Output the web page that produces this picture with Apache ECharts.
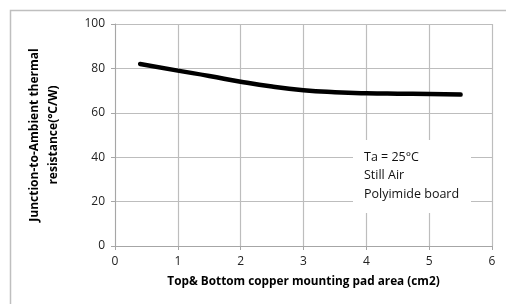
<!DOCTYPE html>
<html>
<head>
<meta charset="utf-8">
<script src="https://cdn.jsdelivr.net/npm/echarts@6/dist/echarts.min.js"></script>
<style>
  html, body { margin: 0; padding: 0; background: #fff; }
  #chart { width: 506px; height: 304px; }
</style>
</head>
<body>
<div id="chart"></div>
<script>
// 数据：铜箔面积 (cm2) 与 结-环境热阻 (°C/W)
const padArea = [0.4, 1, 1.5, 2, 2.5, 3, 3.5, 4, 4.5, 5, 5.5];
const thermalRes = [82, 79, 76.6, 74, 71.8, 70.2, 69.3, 68.8, 68.6, 68.5, 68.2];
const xTicks = [0, 1, 2, 3, 4, 5, 6];
const yTicks = [0, 20, 40, 60, 80, 100];
const noteLines = ['Ta = 25°C', 'Still Air', 'Polyimide board'];

const chart = echarts.init(document.getElementById('chart'));
const FONT = '"Open Sans", "Liberation Sans", sans-serif';

const option = {
    animation: false,
    textStyle: { fontFamily: FONT },
    grid: {
        left: 115,
        right: 14,
        top: 24,
        bottom: 58
    },
    xAxis: {
        type: 'value',
        min: xTicks[0],
        max: xTicks[xTicks.length - 1],
        interval: 1,
        name: 'Top& Bottom copper mounting pad area (cm2)',
        nameLocation: 'middle',
        nameGap: 30,
        nameTextStyle: { fontSize: 11.8, fontWeight: 'bold', color: '#000', fontFamily: FONT },
        axisLine: { show: true, lineStyle: { color: '#a6a6a6', width: 1 } },
        axisTick: { show: true, length: 4, lineStyle: { color: '#a6a6a6' } },
        axisLabel: { fontSize: 12, color: '#222', margin: 10 },
        splitLine: { show: true, lineStyle: { color: '#bdbdbd', width: 1.2 } }
    },
    yAxis: {
        type: 'value',
        min: yTicks[0],
        max: yTicks[yTicks.length - 1],
        interval: 20,
        name: 'Junction-to-Ambient thermal\nresistance(°C/W)',
        nameLocation: 'middle',
        nameGap: 52,
        nameTextStyle: { fontSize: 12, fontWeight: 'bold', color: '#000', lineHeight: 19, fontFamily: FONT },
        axisLine: { show: true, lineStyle: { color: '#a6a6a6', width: 1 } },
        axisTick: { show: true, length: 4, lineStyle: { color: '#a6a6a6' } },
        axisLabel: { fontSize: 12, color: '#222', margin: 10 },
        splitLine: { show: true, lineStyle: { color: '#bdbdbd', width: 1.2 } }
    },
    graphic: [
        {
            type: 'rect',
            left: 8, top: 8,
            shape: { width: 520, height: 320 },
            style: { fill: 'none', stroke: '#bfbfbf', lineWidth: 1.5 },
            silent: true
        },
        {
            type: 'rect',
            left: 353, top: 140,
            z: 50,
            shape: { width: 118, height: 73 },
            style: { fill: '#fff' }
        },
        {
            type: 'text',
            left: 364, top: 148,
            z: 51,
            style: {
                text: noteLines.join('\n'),
                fontSize: 12.5,
                lineHeight: 18.5,
                fill: '#111',
                fontFamily: FONT
            }
        }
    ],
    series: [
        {
            type: 'line',
            smooth: true,
            symbol: 'none',
            data: padArea.map((x, i) => [x, thermalRes[i]]),
            lineStyle: { color: '#000', width: 4.5, cap: 'round' }
        }
    ]
};

chart.setOption(option);
</script>
</body>
</html>
